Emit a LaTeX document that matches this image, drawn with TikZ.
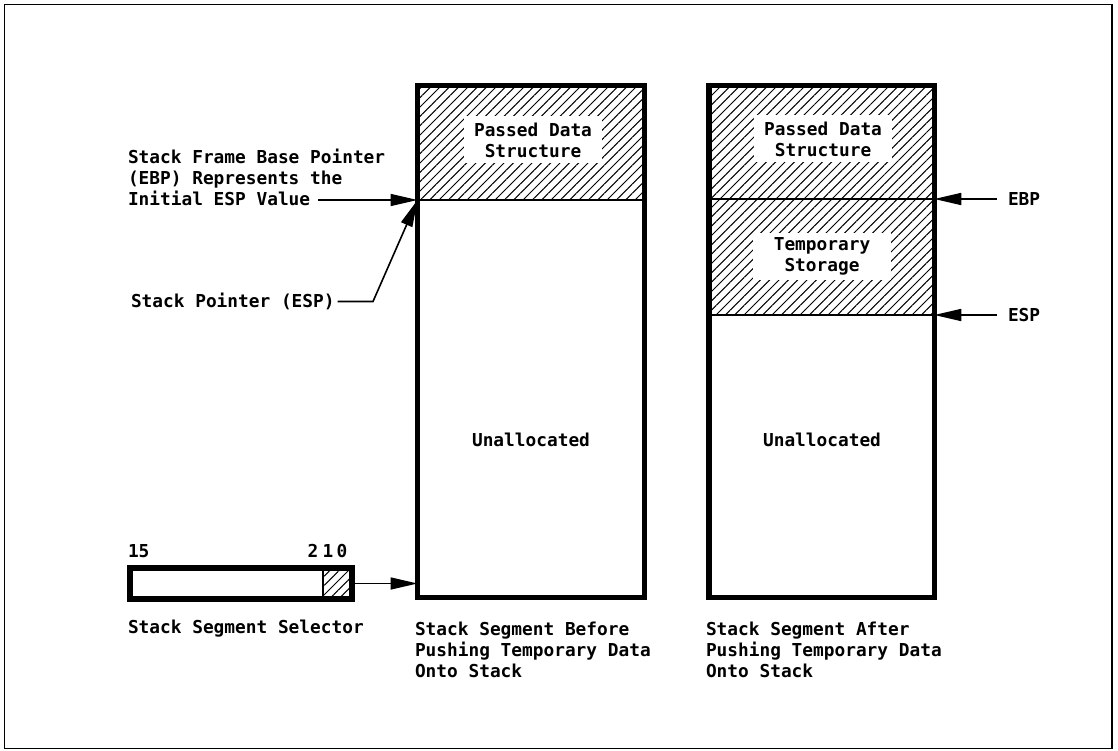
\documentclass[tikz,border=0pt]{standalone}
\usepackage{fontspec}
\setmainfont{DejaVu Sans Mono}
\usetikzlibrary{patterns.meta,arrows.meta}
\begin{document}
\begin{tikzpicture}[x=1pt,y=-1pt,
  every node/.style={inner sep=0pt, outer sep=0pt},
  txt/.style={font=\fontsize{17.8}{21}\selectfont\bfseries},
  stackbox/.style={draw, line width=5.5pt, minimum width=227pt, minimum height=512pt},
  hatch/.style={pattern={Lines[angle=45,distance=6.6pt,line width=1pt]}},
  arr/.style={line width=1.6pt, -{Triangle[length=27pt,width=12pt]}},
  whitebox/.style={txt, fill=white, align=center, minimum width=138pt, minimum height=47pt}
]
\useasboundingbox (0,0) rectangle (1118,751);
\draw[line width=1.5pt] (4.5,4.5) rectangle (1112,748.5);
\coordinate (y200) at (0,200);
\coordinate (y199) at (0,199);
\coordinate (y315) at (0,315);
% hatch areas
\fill[hatch] (417.5,85.5) rectangle (644.5,200);
\fill[hatch] (708.75,85.5) rectangle (934.25,315);
\fill[hatch] (323,568) rectangle (352,599);
% stacks
\node[stackbox] (s1) at (531,341.5) {};
\node[stackbox, minimum width=225.5pt] (s2) at (821.5,341.5) {};
\draw[line width=1.8pt] (s1.west |- y200) -- (s1.east |- y200);
\draw[line width=1.8pt] (s2.west |- y199) -- (s2.east |- y199);
\draw[line width=1.8pt] (s2.west |- y315) -- (s2.east |- y315);
% text boxes
\node[whitebox] (pd1) at (533,140) {Passed Data\\Structure};
\node[whitebox] (pd2) at (823,139) {Passed Data\\Structure};
\node[whitebox] (ts) at (822,256.5) {Temporary\\Storage};
\node[txt] (u1) at (531,440) {Unallocated};
\node[txt] (u2) at (822,440) {Unallocated};
% selector
\draw[line width=1.2pt] (323,568) -- (323,599);
\node[draw, line width=5.5pt, minimum width=222pt, minimum height=31pt] (sel) at (241,583.5) {};
\node[txt, anchor=base west] (b15) at (128,557) {15};
\node[txt, anchor=base] (b2) at (313,557) {2};
\node[txt, anchor=base] (b1) at (328,557) {1};
\node[txt, anchor=base] (b0) at (342,557) {0};
\draw[arr] (sel.east) -- (sel.east -| s1.west);
% labels
\node[txt, anchor=north west, align=left] (lbp) at (128,149.5) {Stack Frame Base Pointer\\(EBP) Represents the\\Initial ESP Value};
\coordinate (a1) at (318,200);
\draw[arr] (a1) -- (s1.west |- y200);
\node[txt, anchor=west, outer sep=3pt] (sp) at (128,301.5) {Stack Pointer (ESP)};
\draw[arr] (sp.east) -- (373,301.5) -- (s1.west |- y200);
\node[txt, anchor=west] (ebp) at (1008,199) {EBP};
\node[txt, anchor=west] (esp) at (1008,315) {ESP};
\draw[arr] ([xshift=-11pt]ebp.west) -- (s2.east |- y199);
\draw[arr] ([xshift=-11pt]esp.west) -- (s2.east |- y315);
\node[txt, anchor=base west] (lsel) at (128,633) {Stack Segment Selector};
\node[txt, anchor=north west, align=left] (l1) at (415,621.5) {Stack Segment Before\\Pushing Temporary Data\\Onto Stack};
\node[txt, anchor=north west, align=left] (l2) at (706,621.5) {Stack Segment After\\Pushing Temporary Data\\Onto Stack};
\end{tikzpicture}
\end{document}
